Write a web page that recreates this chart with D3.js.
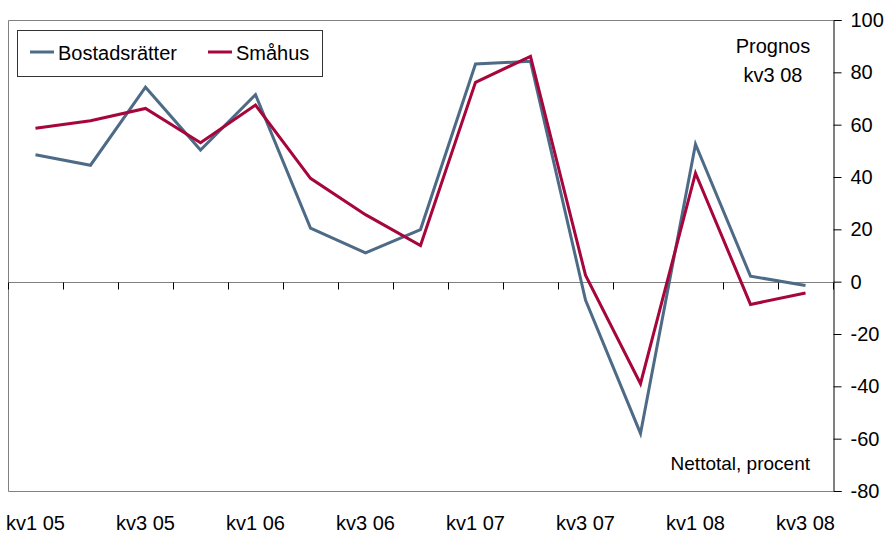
<!DOCTYPE html>
<html>
<head>
<meta charset="utf-8">
<script src="https://cdn.jsdelivr.net/npm/d3@7"></script>
<style>
  body { margin: 0; background: #fff; }
  svg { font-family: "Liberation Sans", Arial, sans-serif; }
</style>
</head>
<body>
<svg width="887" height="534"></svg>
<script>
  // DATA
  const quarters = ["kv1 05", "kv2 05", "kv3 05", "kv4 05", "kv1 06", "kv2 06", "kv3 06", "kv4 06",
                    "kv1 07", "kv2 07", "kv3 07", "kv4 07", "kv1 08", "kv2 08", "kv3 08"];
  const bostadsratter = [48.5, 44.5, 74.3, 50.3, 71.5, 20.5, 11, 19.9, 83.2, 84.2, -7, -58, 52.5, 2.1, -1.5];
  const smahus = [58.6, 61.5, 66.2, 53.1, 67.5, 39.5, 25.6, 13.8, 76.2, 86.1, 2.5, -39, 41.5, -8.7, -4.3];
  const yTicks = [100, 80, 60, 40, 20, 0, -20, -40, -60, -80];
  const xLabels = ["kv1 05", "kv3 05", "kv1 06", "kv3 06", "kv1 07", "kv3 07", "kv1 08", "kv3 08"];
  const series = [
    { name: "Bostadsrätter", values: bostadsratter, color: "#4D6B86" },
    { name: "Småhus", values: smahus, color: "#A6063B" }
  ];

  (function () {
    // SVG PARAMETERS
    const svg = d3.select("svg");
    const plotLeft = 8, plotRight = 833, plotTop = 20, plotBottom = 491;

    const xScale = d3.scaleBand().domain(quarters).range([plotLeft, plotRight]);
    const yScale = d3.scaleLinear().domain([-80, 100]).range([plotBottom, plotTop]);
    const xMid = (q) => xScale(q) + xScale.bandwidth() / 2;

    // FRAME
    svg.append("path")
      .attr("d", `M${plotRight},${plotTop + 0.5}H${plotLeft + 0.5}V${plotBottom + 0.5}H${plotRight}`)
      .attr("fill", "none")
      .attr("stroke", "#808080")
      .attr("stroke-width", 1);

    // Y AXIS ON THE RIGHT (plain hyphen for negatives, as in the original)
    const yAxis = d3.axisRight(yScale)
      .tickValues(yTicks)
      .tickFormat((d) => String(d))
      .tickSize(8)
      .tickPadding(9);
    const yAxisG = svg.append("g")
      .attr("transform", `translate(${plotRight + 0.5},0)`)
      .call(yAxis);
    yAxisG.select(".domain").attr("stroke", "#000");
    yAxisG.selectAll("text")
      .attr("font-size", 20)
      .attr("font-family", "Liberation Sans, Arial, sans-serif")
      .attr("fill", "#000");

    // ZERO LINE WITH QUARTER TICKS
    const y0 = Math.round(yScale(0)) + 0.5;
    svg.append("line")
      .attr("x1", plotLeft).attr("x2", plotRight)
      .attr("y1", y0).attr("y2", y0)
      .attr("stroke", "#808080");
    const tickX = quarters.map((q) => xScale(q)).concat([plotRight]);
    svg.append("g")
      .selectAll("line")
      .data(tickX)
      .enter()
      .append("line")
      .attr("x1", (d) => Math.round(d) + 0.5)
      .attr("x2", (d) => Math.round(d) + 0.5)
      .attr("y1", y0).attr("y2", y0 + 7)
      .attr("stroke", "#000");

    // X LABELS
    svg.append("g")
      .selectAll("text")
      .data(xLabels)
      .enter()
      .append("text")
      .attr("x", (d) => xMid(d))
      .attr("y", 530)
      .attr("text-anchor", "middle")
      .attr("font-size", 20)
      .text((d) => d);

    // LINES
    const line = d3.line()
      .x((d, i) => xMid(quarters[i]))
      .y((d) => yScale(d));
    svg.append("g")
      .selectAll("path")
      .data(series)
      .enter()
      .append("path")
      .attr("d", (d) => line(d.values))
      .attr("fill", "none")
      .attr("stroke", (d) => d.color)
      .attr("stroke-width", 3)
      .attr("stroke-linejoin", "miter");

    // LEGEND
    const legend = svg.append("g");
    legend.append("rect")
      .attr("x", 17.5).attr("y", 30.5)
      .attr("width", 305).attr("height", 46)
      .attr("fill", "#fff")
      .attr("stroke", "#333");
    const legendX = [30, 208];
    series.forEach((s, i) => {
      legend.append("line")
        .attr("x1", legendX[i]).attr("x2", legendX[i] + 24)
        .attr("y1", 52).attr("y2", 52)
        .attr("stroke", s.color)
        .attr("stroke-width", 3);
      legend.append("text")
        .attr("x", legendX[i] + 28)
        .attr("y", 60)
        .attr("font-size", 20)
        .text(s.name);
    });

    // ANNOTATIONS
    svg.append("text")
      .attr("x", 773).attr("y", 53)
      .attr("text-anchor", "middle")
      .attr("font-size", 20)
      .text("Prognos");
    svg.append("text")
      .attr("x", 773).attr("y", 82)
      .attr("text-anchor", "middle")
      .attr("font-size", 20)
      .text("kv3 08");
    svg.append("text")
      .attr("x", 810).attr("y", 470)
      .attr("text-anchor", "end")
      .attr("font-size", 19)
      .text("Nettotal, procent");
  })();
</script>
</body>
</html>
